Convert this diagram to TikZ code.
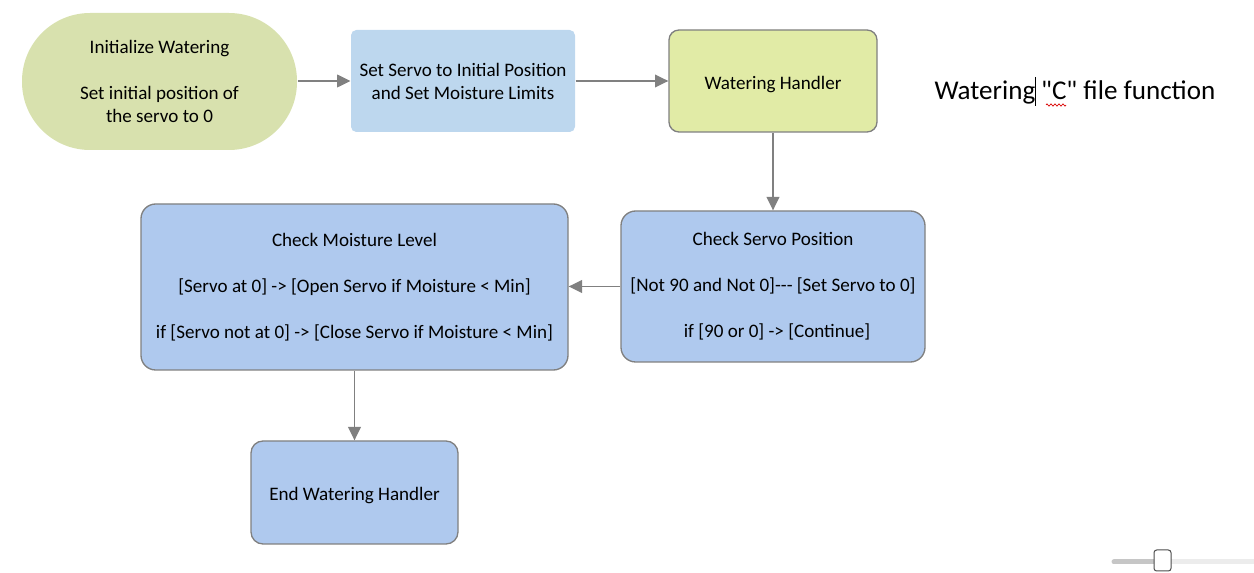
\documentclass[tikz,border=0pt]{standalone}
\usepackage{fontspec}
\newfontfamily\carlito{Carlito}
\usetikzlibrary{arrows.meta,decorations.pathmorphing}

\definecolor{initfill}{RGB}{216,225,174}
\definecolor{setfill}{RGB}{189,215,238}
\definecolor{handlerfill}{RGB}{225,235,166}
\definecolor{checkfill}{RGB}{175,201,238}
\definecolor{edgegray}{RGB}{128,128,128}

\tikzset{
	every picture/.style={line width=0.75pt},
	boxtext/.style={font=\carlito\fontsize{14.3}{17.25}\selectfont, align=center, inner sep=0pt, text=black,
		execute at begin node={\rule{0pt}{14.5pt}}},
	termbox/.style={boxtext, fill=initfill, rounded corners=51pt},
	plainbox/.style={boxtext, fill=setfill, rounded corners=4pt},
	flowbox/.style={boxtext, draw=edgegray, line width=1pt},
	flowarrow/.style={draw=edgegray, line width=1.1pt, -{Triangle[length=10pt,width=9.5pt]}}
}

\begin{document}
\begin{tikzpicture}[x=0.75pt,y=0.75pt,yscale=-1,xscale=1]
	\useasboundingbox (0,0) rectangle (1254,573);

	%Shape: Stadium [id:init]
	\node[termbox, minimum width=206.25pt, minimum height=102.75pt] (init) at (159.5,81.5)
		{Initialize Watering\\[17.25pt]Set initial position of\\the servo to 0};
	%Shape: Rectangle [id:setservo]
	\node[plainbox, minimum width=168pt, minimum height=76.5pt] (setservo) at (463,81)
		{Set Servo to Initial Position\\and Set Moisture Limits};
	%Rounded Rect [id:handler]
	\node[flowbox, fill=handlerfill, rounded corners=7.5pt, minimum width=156pt, minimum height=76.5pt] (handler) at (773,81)
		{Watering Handler};
	%Rounded Rect [id:checkservo]
	\node[flowbox, fill=checkfill, rounded corners=11pt, minimum width=228pt, minimum height=113.25pt] (checkservo) at (773,286.5)
		{Check Servo Position\\[17.25pt][Not 90 and Not 0]--- [Set Servo to 0]\\[17.25pt]\hspace{6pt}if [90 or 0] -> [Continue]};
	%Rounded Rect [id:checkmoist]
	\node[flowbox, fill=checkfill, rounded corners=11pt, minimum width=320.25pt, minimum height=124.5pt] (checkmoist) at (354.5,287)
		{Check Moisture Level\\[17.25pt][Servo at 0] -> [Open Servo if Moisture < Min]\\[17.25pt]if [Servo not at 0] -> [Close Servo if Moisture < Min]};
	%Rounded Rect [id:endhandler]
	\node[flowbox, fill=checkfill, rounded corners=9pt, minimum width=155.25pt, minimum height=77.25pt] (endhandler) at (354.5,492.5)
		{End Watering Handler};

	%Straight Lines
	\draw[flowarrow] (init.east |- setservo.west) -- (setservo.west);
	\draw[flowarrow] (setservo) -- (handler);
	\draw[flowarrow] (handler) -- (checkservo);
	\draw[flowarrow] (checkservo.west) -- (checkservo.west -| checkmoist.east);
	\draw[flowarrow] (checkmoist) -- (endhandler);

	% Text Node
	\node[anchor=base west, inner sep=0pt, font=\carlito\fontsize{20.3}{24}\selectfont] (title) at (934,100)
		{Watering\hspace{4.5pt}"C" file function};
	%Text cursor and spelling mark
	\draw[black, line width=0.9pt] (1035.5,77) -- (1035.5,106);
	\draw[red!85!black, line width=0.5pt, decorate, decoration={zigzag, amplitude=0.9pt, segment length=3pt}] (1046,105) -- (1066,105);

	%Zoom slider
	\draw[gray!45, line width=3.75pt, line cap=round] (1114,562) -- (1160,562);
	\draw[gray!15, line width=3.75pt] (1160,562) -- (1254,562);
	\draw[fill=white, draw=black!70, line width=0.75pt, rounded corners=2pt] (1154,550) rectangle (1171,571);
\end{tikzpicture}
\end{document}
